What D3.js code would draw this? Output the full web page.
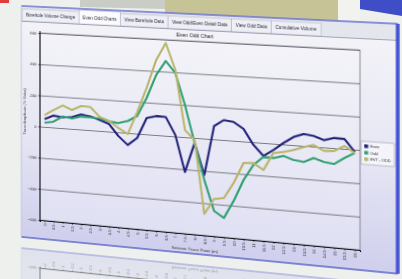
<!DOCTYPE html>
<html>
<head>
<meta charset="utf-8">
<script src="https://cdn.jsdelivr.net/npm/d3@7"></script>
<style>
  html, body { margin: 0; padding: 0; width: 402px; height: 279px; overflow: hidden; background: #edf0ed; }
  #stage { position: relative; width: 402px; height: 279px; }
  #bg { position: absolute; left: 0; top: 0; }
  .panel { position: absolute; left: 0; top: 0; transform-origin: 0 0; }
  #reflection { opacity: 0.45; }
  svg text { font-family: "Liberation Sans", Arial, sans-serif; }
</style>
</head>
<body>
<div id="stage">
  <svg id="bg" width="402" height="279"></svg>
  <div id="reflection" class="panel"></div>
  <div id="front" class="panel"></div>
</div>
<script>
// *************************************
// DATA
// *************************************
const tabNames = ["Borehole Volume Change", "Even Odd Charts", "View Borehole Data",
                  "View Odd/Even Detail Data", "View Odd Data", "Cumulative Volume"];
const chartTitle = "Even Odd Chart";
const xTitle = "Seismic Trace Point (m)";
const yTitle = "Trace Amplitude (% Value)";
const categories = ["0", "0.5", "1", "1.5", "2", "2.5", "3", "3.5", "4", "4.5", "5", "5.5",
                    "6", "6.5", "7", "7.5", "8", "8.5", "9", "9.5", "10", "10.5", "11", "11.5",
                    "12", "12.5", "13", "13.5", "14", "14.5", "15", "15.5", "16"];
const yTicks = [-600, -400, -200, 0, 200, 400, 600];
const seriesNames = ["Even", "Odd", "EVT - ODD"];
const evenValues = [50, 76, 69, 75, 96, 87, 69, 48, -24, -76, -27, 102, 119, 117, 9, -217, -32,
                    -226, 82, 123, 115, 77, -17, -80, -39, 8, 49, 72, 64, 44, 61, 59, -14];
const oddValues = [25, 38, 75, 66, 83, 81, 78, 64, 58, 75, 111, 228, 376, 467, 395, 200, -32,
                   -257, -443, -481, -371, -237, -140, -86, -88, -71, -90, -98, -69, -88, -96, -55, -20];
const diffValues = [76, 112, 145, 120, 150, 147, 88, 67, 27, -7, 136, 291, 470, 579, 414, 44, -13,
                    -467, -369, -358, -260, -132, -128, -166, -57, -46, -30, -7, 10, -22, -17, 17, -20];

const seriesColors = ["#22227a", "#32a072", "#b9b56a"];

// layout of the flat panel (local coords) and where its plot lands in the photo
const plot = { left: 60, top: 60, width: 320, height: 200 };
const panelBox = { left: 40, top: 32, right: 415, bottom: 280 };
const plotQuad = [[40, 33], [360, 50], [360, 250], [40, 220]];
const mirrorY = 286;

// *************************************
// PERSPECTIVE HELPERS
// *************************************

let squareToQuad = (q) => {
  let [p0, p1, p2, p3] = q;
  let sx = p0[0] - p1[0] + p2[0] - p3[0], sy = p0[1] - p1[1] + p2[1] - p3[1];
  let dx1 = p1[0] - p2[0], dx2 = p3[0] - p2[0], dy1 = p1[1] - p2[1], dy2 = p3[1] - p2[1];
  let det = dx1 * dy2 - dx2 * dy1;
  let g = (sx * dy2 - dx2 * sy) / det, h = (dx1 * sy - sx * dy1) / det;
  return [
    [p1[0] - p0[0] + g * p1[0], p3[0] - p0[0] + h * p3[0], p0[0]],
    [p1[1] - p0[1] + g * p1[1], p3[1] - p0[1] + h * p3[1], p0[1]],
    [g, h, 1]
  ];
};

let mul = (A, B) => A.map((row) => [0, 1, 2].map((j) => row[0] * B[0][j] + row[1] * B[1][j] + row[2] * B[2][j]));

let toCss = (m) => `matrix3d(${m[0][0]},${m[1][0]},0,${m[2][0]},${m[0][1]},${m[1][1]},0,${m[2][1]},0,0,1,0,${m[0][2]},${m[1][2]},0,${m[2][2]})`;

let toUnit = [[1 / plot.width, 0, -plot.left / plot.width],
              [0, 1 / plot.height, -plot.top / plot.height],
              [0, 0, 1]];
let frontMatrix = mul(squareToQuad(plotQuad), toUnit);
let mirrorMatrix = mul(frontMatrix, [[1, 0, 0], [0, -1, 2 * mirrorY], [0, 0, 1]]);

// *************************************
// BACKGROUND PHOTO BITS
// *************************************

let bg = d3.select("#bg");
bg.append("rect").attr("width", 402).attr("height", 279).attr("fill", "#edf0ed");
bg.append("polygon").attr("points", "80,0 165,0 165,9 80,7").attr("fill", "#c9cdc6");
bg.append("polygon").attr("points", "165,0 338,0 338,26 165,20").attr("fill", "#c6c496");
bg.append("polygon").attr("points", "338,0 360,0 360,27 338,26").attr("fill", "#f2f3ee");
bg.append("polygon").attr("points", "360,0 402,0 402,16 360,9").attr("fill", "#3f4ec6");
bg.append("rect").attr("width", 9).attr("height", 3).attr("fill", "#e23b3b");

// *************************************
// PANEL
// *************************************

let drawPanel = (holder, id) => {
  let svg = d3.select(holder).append("svg")
              .attr("width", 430)
              .attr("height", 300)
              .style("overflow", "visible");

  let defs = svg.append("defs");
  let grad = defs.append("linearGradient").attr("id", id + "-g")
                 .attr("x1", 0).attr("y1", 0).attr("x2", 0).attr("y2", 1);
  grad.append("stop").attr("offset", 0).attr("stop-color", "#f4f4f8");
  grad.append("stop").attr("offset", 0.55).attr("stop-color", "#e6e6f4");
  grad.append("stop").attr("offset", 1).attr("stop-color", "#cfcfee");

  let plotGrad = defs.append("linearGradient").attr("id", id + "-p")
                     .attr("x1", 0).attr("y1", 0).attr("x2", 0).attr("y2", 1);
  plotGrad.append("stop").attr("offset", 0).attr("stop-color", "#f3f3f8");
  plotGrad.append("stop").attr("offset", 1).attr("stop-color", "#e0e0f4");

  // panel body
  svg.append("rect")
     .attr("x", panelBox.left).attr("y", panelBox.top)
     .attr("width", panelBox.right - panelBox.left)
     .attr("height", panelBox.bottom - panelBox.top)
     .attr("fill", `url(#${id}-g)`);

  // tab strip
  svg.append("rect")
     .attr("x", panelBox.left).attr("y", panelBox.top)
     .attr("width", panelBox.right - panelBox.left).attr("height", 16)
     .attr("fill", "#e4e6ee");

  let tabX = panelBox.left + 1;
  tabNames.forEach((name, i) => {
    let g = svg.append("g");
    let rect = g.append("rect")
                .attr("y", i === 1 ? panelBox.top + 1.5 : panelBox.top + 3)
                .attr("height", i === 1 ? 14.5 : 13)
                .attr("fill", i === 1 ? "#fbfbfd" : "#eeeff5")
                .attr("stroke", "#a4a6bc")
                .attr("stroke-width", 0.5);
    let label = g.append("text")
                 .attr("y", panelBox.top + 11.5)
                 .attr("font-size", 4.6)
                 .attr("fill", "#2a2a3a")
                 .text(name);
    let w = label.node().getComputedTextLength() + 8;
    rect.attr("x", tabX).attr("width", w);
    label.attr("x", tabX + 4);
    tabX += w;
  });

  svg.append("line")
     .attr("x1", panelBox.left).attr("x2", panelBox.right)
     .attr("y1", panelBox.top + 16.5).attr("y2", panelBox.top + 16.5)
     .attr("stroke", "#8e90a8").attr("stroke-width", 0.8);

  // panel edges
  svg.append("line")
     .attr("x1", panelBox.left).attr("x2", panelBox.right)
     .attr("y1", panelBox.top).attr("y2", panelBox.top)
     .attr("stroke", "#6a70d0").attr("stroke-width", 1.4);
  svg.append("line")
     .attr("x1", panelBox.left).attr("x2", panelBox.right)
     .attr("y1", panelBox.bottom).attr("y2", panelBox.bottom)
     .attr("stroke", "#5c64c8").attr("stroke-width", 1.6);
  svg.append("line")
     .attr("x1", panelBox.left).attr("x2", panelBox.left)
     .attr("y1", panelBox.top).attr("y2", panelBox.bottom)
     .attr("stroke", "#b8bad8").attr("stroke-width", 0.8);
  svg.append("line")
     .attr("x1", panelBox.right).attr("x2", panelBox.right)
     .attr("y1", panelBox.top).attr("y2", panelBox.bottom)
     .attr("stroke", "#4452d4").attr("stroke-width", 3.5);

  // title
  svg.append("text")
     .attr("x", plot.left + plot.width / 2)
     .attr("y", plot.top - 3.5)
     .attr("text-anchor", "middle")
     .attr("font-size", 5.2)
     .attr("fill", "#222")
     .text(chartTitle);

  // *************************************
  // SCALES, GRID AND AXES
  // *************************************

  let x = d3.scalePoint()
            .domain(categories)
            .range([plot.left, plot.left + plot.width])
            .padding(0.5);
  let y = d3.scaleLinear()
            .domain([-600, 600])
            .range([plot.top + plot.height, plot.top]);

  svg.append("rect")
     .attr("x", plot.left).attr("y", plot.top)
     .attr("width", plot.width).attr("height", plot.height)
     .attr("fill", `url(#${id}-p)`)
     .attr("stroke", "#7a7a86").attr("stroke-width", 0.8);

  svg.append("g")
     .attr("transform", `translate(${plot.left},0)`)
     .call(d3.axisLeft(y).tickValues(yTicks).tickSize(-plot.width).tickFormat(""))
     .call((g) => g.select(".domain").remove())
     .selectAll("line")
     .attr("stroke", "#6c6c74")
     .attr("stroke-width", 0.9);

  let yAxis = svg.append("g")
                 .attr("transform", `translate(${plot.left},0)`)
                 .call(d3.axisLeft(y).tickValues(yTicks).tickSize(2).tickPadding(1.5));
  yAxis.select(".domain").attr("stroke", "#111").attr("stroke-width", 1).attr("d", `M0,${plot.top - 2}V${plot.top + plot.height + 2}`);
  yAxis.selectAll("line").attr("stroke", "#111").attr("stroke-width", 0.6);
  yAxis.selectAll("text").attr("font-size", 4.4).attr("fill", "#333");

  let xAxis = svg.append("g")
                 .attr("transform", `translate(0,${plot.top + plot.height})`)
                 .call(d3.axisBottom(x).tickSize(2).tickPadding(1.5));
  xAxis.select(".domain").attr("stroke", "#111").attr("stroke-width", 1);
  xAxis.selectAll("line").attr("stroke", "#111").attr("stroke-width", 0.6);
  xAxis.selectAll("text")
       .attr("font-size", 4.2)
       .attr("fill", "#333")
       .attr("text-anchor", "end")
       .attr("dy", "0.32em")
       .attr("transform", "translate(0,3.5) rotate(-90)")
       .attr("x", 0)
       .attr("y", 0);

  svg.append("text")
     .attr("x", plot.left + plot.width / 2)
     .attr("y", plot.top + plot.height + 17)
     .attr("text-anchor", "middle")
     .attr("font-size", 4.4)
     .attr("fill", "#333")
     .text(xTitle);

  svg.append("text")
     .attr("transform", `translate(${panelBox.left + 5},${plot.top + 85}) rotate(-90)`)
     .attr("text-anchor", "middle")
     .attr("font-size", 4.2)
     .attr("fill", "#444")
     .text(yTitle);

  // *************************************
  // SERIES
  // *************************************

  let line = d3.line()
               .x((d, i) => x(categories[i]))
               .y((d) => y(d))
               .curve(d3.curveLinear);

  [evenValues, oddValues, diffValues].forEach((values, k) => {
    svg.append("path")
       .datum(values)
       .attr("fill", "none")
       .attr("stroke", seriesColors[k])
       .attr("stroke-width", 2.1)
       .attr("stroke-linejoin", "round")
       .attr("d", line);
  });

  // legend
  let legend = svg.append("g").attr("transform", `translate(${plot.left + plot.width + 1},151)`);
  legend.append("rect")
        .attr("width", 31).attr("height", 23)
        .attr("fill", "#f4f4fa")
        .attr("stroke", "#9a9aa8").attr("stroke-width", 0.6);
  seriesNames.forEach((name, k) => {
    legend.append("rect")
          .attr("x", 3).attr("y", 3 + k * 6.5)
          .attr("width", 3.6).attr("height", 3.6)
          .attr("fill", seriesColors[k]);
    legend.append("text")
          .attr("x", 8.5).attr("y", 6.3 + k * 6.5)
          .attr("font-size", 3.8)
          .attr("fill", "#333")
          .text(name);
  });
};

drawPanel("#front", "front");
drawPanel("#reflection", "mirror");

d3.select("#front").style("transform", toCss(frontMatrix));
d3.select("#reflection").style("transform", toCss(mirrorMatrix));
</script>
</body>
</html>
